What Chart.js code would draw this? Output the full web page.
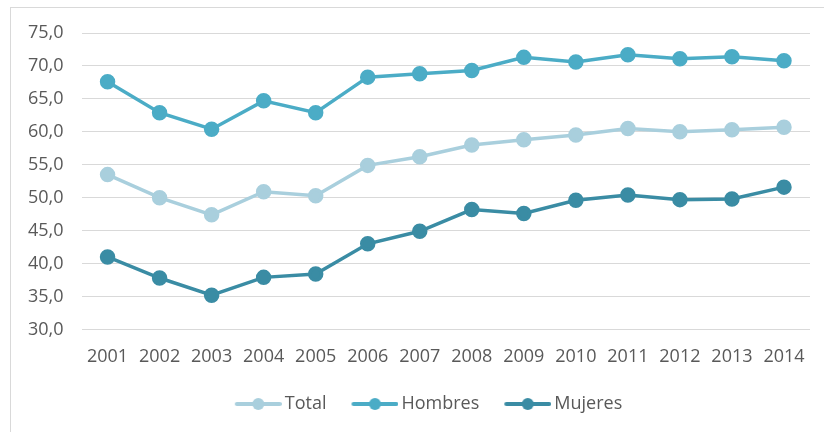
<!DOCTYPE html>
<html>
<head>
<meta charset="utf-8">
<script src="https://cdn.jsdelivr.net/npm/chart.js@4/dist/chart.umd.min.js"></script>
<style>
    html, body { margin: 0; padding: 0; background: #fff; }
    body { width: 824px; height: 432px; position: relative; overflow: hidden; }
    .frame { position: absolute; left: 10px; top: 7px; width: 840px; height: 450px; border: 1px solid #d9d9d9; }
    .wrap { position: absolute; left: 0; top: 0; width: 824px; height: 432px; }
</style>
</head>
<body>
<div class="frame"></div>
<div class="wrap"><canvas id="chart"></canvas></div>
<script>
const years = ['2001', '2002', '2003', '2004', '2005', '2006', '2007', '2008', '2009', '2010', '2011', '2012', '2013', '2014'];
const total = [53.5, 50.0, 47.4, 50.9, 50.3, 54.9, 56.2, 58.0, 58.8, 59.5, 60.5, 60.0, 60.3, 60.7];
const hombres = [67.6, 62.9, 60.4, 64.7, 62.9, 68.3, 68.8, 69.3, 71.3, 70.6, 71.7, 71.1, 71.4, 70.8];
const mujeres = [41.0, 37.8, 35.2, 37.9, 38.4, 43.0, 44.9, 48.2, 47.6, 49.6, 50.4, 49.7, 49.8, 51.6];
const yMin = 30, yMax = 75, yStep = 5;

const colTotal = '#a9cfdd';
const colHombres = '#4bacc6';
const colMujeres = '#3a8ca4';

// legend symbol: line with a dot, drawn at the right of a wider canvas
// so the gap to the text comes out like the original
function legendIcon(color) {
    const c = document.createElement('canvas');
    c.width = 68;
    c.height = 14;
    const ctx = c.getContext('2d');
    const x0 = 68 - 47;
    ctx.strokeStyle = color;
    ctx.lineWidth = 4;
    ctx.lineCap = 'round';
    ctx.beginPath();
    ctx.moveTo(x0 + 2, 7);
    ctx.lineTo(x0 + 45, 7);
    ctx.stroke();
    ctx.fillStyle = color;
    ctx.beginPath();
    ctx.arc(x0 + 23.5, 7, 6, 0, Math.PI * 2);
    ctx.fill();
    return c;
}

function series(label, data, color) {
    return {
        label: label,
        data: data,
        borderColor: color,
        backgroundColor: color,
        pointBackgroundColor: color,
        pointBorderColor: color,
        borderWidth: 3.5,
        pointRadius: 6,
        pointHoverRadius: 6,
        pointStyle: 'circle',
        tension: 0,
        fill: false
    };
}

const icons = [legendIcon(colTotal), legendIcon(colHombres), legendIcon(colMujeres)];

// nudge the legend row a little to the right, as in the original
const legendShift = {
    id: 'legendShift',
    afterLayout(chart) {
        chart.legend.left += 11;
        chart.legend.right += 11;
    }
};

new Chart(document.getElementById('chart'), {
    type: 'line',
    data: {
        labels: years,
        datasets: [
            series('Total', total, colTotal),
            series('Hombres', hombres, colHombres),
            series('Mujeres', mujeres, colMujeres)
        ]
    },
    options: {
        responsive: true,
        maintainAspectRatio: false,
        animation: false,
        events: [],
        layout: { padding: { left: 10, right: 14, top: 33, bottom: 9 } },
        plugins: {
            tooltip: { enabled: false },
            legend: {
                position: 'bottom',
                labels: {
                    color: '#595959',
                    font: { family: 'Open Sans', size: 18 },
                    usePointStyle: true,
                    pointStyleWidth: 56,
                    padding: 10,
                    generateLabels: function (chart) {
                        return chart.data.datasets.map(function (ds, i) {
                            return {
                                text: ds.label,
                                fontColor: '#595959',
                                pointStyle: icons[i],
                                hidden: false,
                                lineWidth: 0,
                                datasetIndex: i
                            };
                        });
                    }
                }
            }
        },
        scales: {
            x: {
                offset: true,
                grid: { display: false, drawTicks: false },
                border: { display: false },
                ticks: {
                    color: '#595959',
                    font: { family: 'Open Sans', size: 18 },
                    padding: 17,
                    maxRotation: 0,
                    autoSkip: false
                }
            },
            y: {
                min: yMin,
                max: yMax,
                grid: { color: '#d9d9d9', lineWidth: 1, drawTicks: false },
                border: { display: false },
                ticks: {
                    stepSize: yStep,
                    color: '#595959',
                    font: { family: 'Open Sans', size: 18 },
                    padding: 18,
                    callback: function (v) { return v.toFixed(1).replace('.', ','); }
                }
            }
        }
    },
    plugins: [legendShift]
});
</script>
</body>
</html>
